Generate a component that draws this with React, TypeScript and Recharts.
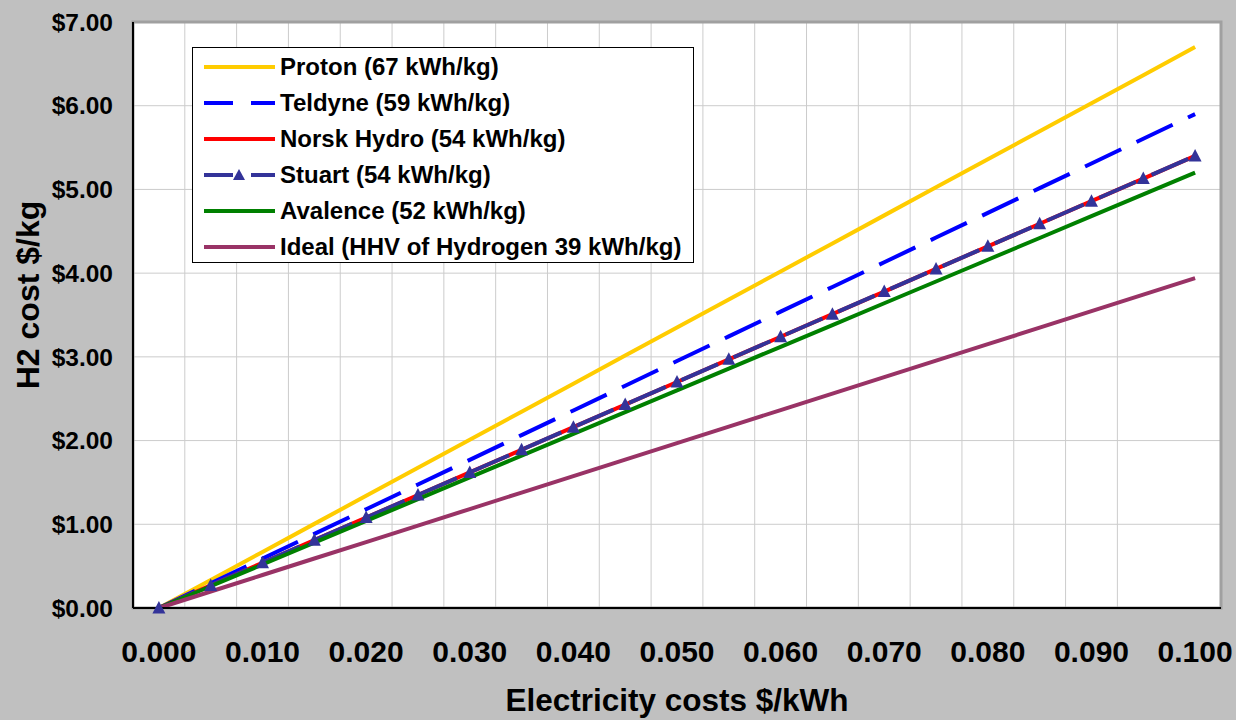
import { LineChart, Line, XAxis, YAxis, CartesianGrid, ReferenceArea, Legend, Label } from 'recharts'

const FONT = '"Liberation Sans", Arial, sans-serif'

// electricity cost $/kWh (one point every half cent)
const COST = [0, 0.005, 0.01, 0.015, 0.02, 0.025, 0.03, 0.035, 0.04, 0.045, 0.05, 0.055, 0.06, 0.065, 0.07, 0.075, 0.08, 0.085, 0.09, 0.095, 0.1]

// H2 cost $/kg
const PROTON = [0, 0.335, 0.67, 1.005, 1.34, 1.675, 2.01, 2.345, 2.68, 3.015, 3.35, 3.685, 4.02, 4.355, 4.69, 5.025, 5.36, 5.695, 6.03, 6.365, 6.7]
const TELDYNE = [0, 0.295, 0.59, 0.885, 1.18, 1.475, 1.77, 2.065, 2.36, 2.655, 2.95, 3.245, 3.54, 3.835, 4.13, 4.425, 4.72, 5.015, 5.31, 5.605, 5.9]
const NORSK = [0, 0.27, 0.54, 0.81, 1.08, 1.35, 1.62, 1.89, 2.16, 2.43, 2.7, 2.97, 3.24, 3.51, 3.78, 4.05, 4.32, 4.59, 4.86, 5.13, 5.4]
const STUART = [0, 0.27, 0.54, 0.81, 1.08, 1.35, 1.62, 1.89, 2.16, 2.43, 2.7, 2.97, 3.24, 3.51, 3.78, 4.05, 4.32, 4.59, 4.86, 5.13, 5.4]
const AVALENCE = [0, 0.26, 0.52, 0.78, 1.04, 1.3, 1.56, 1.82, 2.08, 2.34, 2.6, 2.86, 3.12, 3.38, 3.64, 3.9, 4.16, 4.42, 4.68, 4.94, 5.2]
const IDEAL = [0, 0.197, 0.394, 0.591, 0.788, 0.985, 1.182, 1.379, 1.576, 1.773, 1.97, 2.167, 2.364, 2.561, 2.758, 2.955, 3.152, 3.349, 3.546, 3.743, 3.94]

const X_LABELS = [0, 0.01, 0.02, 0.03, 0.04, 0.05, 0.06, 0.07, 0.08, 0.09, 0.1]
// category boundaries (gridlines + long tick marks)
const X_BOUNDS = [-0.0025, 0.0025, 0.0075, 0.0125, 0.0175, 0.0225, 0.0275, 0.0325, 0.0375, 0.0425, 0.0475, 0.0525, 0.0575, 0.0625, 0.0675, 0.0725, 0.0775, 0.0825, 0.0875, 0.0925, 0.0975, 0.1025]
const X_DOMAIN = [-0.0025, 0.1025]
const Y_LABELS = [0, 1, 2, 3, 4, 5, 6, 7]
const Y_MINOR = [0, 0.25, 0.5, 0.75, 1, 1.25, 1.5, 1.75, 2, 2.25, 2.5, 2.75, 3, 3.25, 3.5, 3.75, 4, 4.25, 4.5, 4.75, 5, 5.25, 5.5, 5.75, 6, 6.25, 6.5, 6.75, 7]

const SERIES = [
  { key: 'proton',   name: 'Proton (67 kWh/kg)',                    color: '#FFCC00', dash: undefined },
  { key: 'teldyne',  name: 'Teldyne (59 kWh/kg)',                   color: '#0000FF', dash: '40 17' },
  { key: 'norsk',    name: 'Norsk Hydro (54 kWh/kg)',               color: '#FF0000', dash: undefined },
  { key: 'stuart',   name: 'Stuart (54 kWh/kg)',                    color: '#333399', dash: '40 17' },
  { key: 'avalence', name: 'Avalence (52 kWh/kg)',                  color: '#008000', dash: undefined },
  { key: 'ideal',    name: 'Ideal (HHV of Hydrogen 39 kWh/kg)',     color: '#993366', dash: undefined },
]

const data = COST.map((c, i) => ({
  cost: c,
  proton: PROTON[i],
  teldyne: TELDYNE[i],
  norsk: NORSK[i],
  stuart: STUART[i],
  avalence: AVALENCE[i],
  ideal: IDEAL[i],
}))

const EmptyTick = () => <g />

const Triangle = (props: any) => {
  const { cx, cy } = props
  if (cx == null || cy == null) return <g />
  return <polygon points={`${cx},${cy - 7} ${cx - 6.5},${cy + 5.5} ${cx + 6.5},${cy + 5.5}`} fill="#333399" />
}

function LegendBox() {
  return (
    <div style={{
      width: 502, height: 216, background: '#fff', border: '1px solid #000', boxSizing: 'border-box',
      fontFamily: FONT, fontWeight: 700, fontSize: 24, color: '#000', paddingTop: 1,
    }}>
      {SERIES.map((s) => (
        <div key={s.key} style={{ height: 36, display: 'flex', alignItems: 'center' }}>
          <svg width={72} height={20} style={{ marginLeft: 11, flex: 'none' }}>
            {s.key === 'teldyne' && (
              <>
                <line x1={0} y1={10} x2={29} y2={10} stroke={s.color} strokeWidth={4} />
                <line x1={47} y1={10} x2={71} y2={10} stroke={s.color} strokeWidth={4} />
              </>
            )}
            {s.key === 'stuart' && (
              <>
                <line x1={0} y1={10} x2={29} y2={10} stroke={s.color} strokeWidth={4} />
                <polygon points="35,4 29,15 41,15" fill={s.color} />
                <line x1={47} y1={10} x2={71} y2={10} stroke={s.color} strokeWidth={4} />
              </>
            )}
            {!s.dash && <line x1={0} y1={10} x2={71} y2={10} stroke={s.color} strokeWidth={4} />}
          </svg>
          <span style={{ marginLeft: 4, whiteSpace: 'nowrap' }}>{s.name}</span>
        </div>
      ))}
    </div>
  )
}

export default function App() {
  const tickFont = { fontFamily: FONT, fontWeight: 700, fill: '#000' }
  return (
    <div style={{ position: 'absolute', left: 0, top: 0, width: 1236, height: 720, background: '#C0C0C0' }}>
      <LineChart width={1236} height={720} data={data} margin={{ top: 22, right: 15, bottom: 0, left: 0 }}>
        <CartesianGrid xAxisId="grid" yAxisId="val" fill="#fff" stroke="#cccccc" strokeWidth={1} />
        <XAxis
          xAxisId="lab" dataKey="cost" type="number" domain={X_DOMAIN} ticks={X_LABELS} allowDataOverflow
          height={112} tickLine={false} tickSize={0} tickMargin={33}
          axisLine={{ stroke: '#000', strokeWidth: 2 }}
          tick={{ ...tickFont, fontSize: 30 }}
          tickFormatter={(v: number) => v.toFixed(3)}
        >
          <Label value="Electricity costs $/kWh" position="insideBottom" offset={9}
            style={{ fontFamily: FONT, fontWeight: 700, fontSize: 31.5, fill: '#000' }} />
        </XAxis>
        <XAxis
          xAxisId="grid" dataKey="cost" type="number" domain={X_DOMAIN} ticks={X_BOUNDS} allowDataOverflow
          mirror height={0} axisLine={false} tickSize={9} tickLine={{ stroke: '#000', strokeWidth: 1.5 }} tick={EmptyTick}
        />
        <XAxis
          xAxisId="minor" dataKey="cost" type="number" domain={X_DOMAIN} ticks={COST} allowDataOverflow
          mirror height={0} axisLine={false} tickSize={6} tickLine={{ stroke: '#000', strokeWidth: 1.5 }} tick={EmptyTick}
        />
        <YAxis
          yAxisId="val" type="number" domain={[0, 7]} ticks={Y_LABELS} width={133}
          tickLine={false} tickSize={0} tickMargin={20}
          axisLine={{ stroke: '#000', strokeWidth: 2 }}
          tick={{ ...tickFont, fontSize: 24.5 }}
          tickFormatter={(v: number) => `$${v.toFixed(2)}`}
        >
          <Label
            content={() => {
              const cy = 295
              return (
                <text x={28} y={cy} transform={`rotate(-90 28 ${cy})`} textAnchor="middle" dominantBaseline="central"
                  style={{ fontFamily: FONT, fontWeight: 700, fontSize: 32, fill: '#000' }}>
                  H2 cost $/kg
                </text>
              )
            }}
          />
        </YAxis>
        <YAxis
          yAxisId="minor" type="number" domain={[0, 7]} ticks={Y_MINOR}
          mirror width={0} axisLine={false} tickSize={6} tickLine={{ stroke: '#000', strokeWidth: 1.5 }} tick={EmptyTick}
        />
        <ReferenceArea xAxisId="lab" yAxisId="val" x1={X_DOMAIN[0]} x2={X_DOMAIN[1]} y1={0} y2={7}
          fill="none" stroke="#a0a0a0" strokeWidth={3} ifOverflow="visible" />
        {SERIES.map((s) => (
          <Line
            key={s.key}
            xAxisId="lab"
            yAxisId="val"
            type="linear"
            dataKey={s.key}
            name={s.name}
            stroke={s.color}
            strokeWidth={4}
            strokeDasharray={s.dash}
            dot={s.key === 'stuart' ? <Triangle /> : false}
            activeDot={false}
            isAnimationActive={false}
          />
        ))}
        <Legend
          layout="horizontal" verticalAlign="middle" align="center"
          wrapperStyle={{ left: 192, top: 47, width: 502, height: 216 }}
          content={() => <LegendBox />}
        />
      </LineChart>
    </div>
  )
}
